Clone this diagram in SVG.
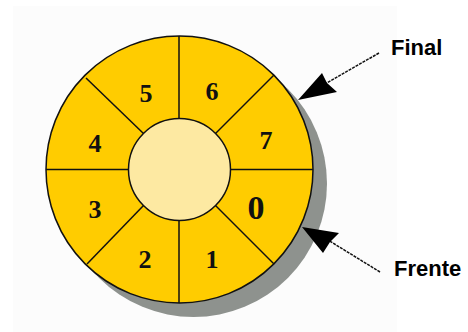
<svg xmlns="http://www.w3.org/2000/svg" width="468" height="332" viewBox="0 0 468 332">
<defs>
<style>
.seg{fill:#ffcc00;stroke:#111;stroke-width:1.5}
.div{stroke:#111;stroke-width:1.5}
.num{font-family:"Liberation Serif","Times New Roman",serif;font-weight:bold;font-size:26px;fill:#111;text-anchor:middle}
.lbl{font-family:"Liberation Sans",Arial,sans-serif;font-weight:bold;font-size:22px;fill:#000}
.lead{stroke:#111;stroke-width:1.5;stroke-dasharray:3 1;fill:none}
.head{fill:#000}
</style>
</defs>
<rect x="0" y="0" width="468" height="332" fill="#ffffff"/>
<rect x="13" y="6" width="384" height="326" fill="#fcfcfc"/>
<g id="ring">
<circle cx="193.5" cy="183.5" r="133.5" fill="#8e928e"/>
<circle class="seg" cx="179.5" cy="169.5" r="133.5"/>
<line class="div" x1="179" y1="36" x2="179" y2="119"/>
<line class="div" x1="179" y1="220" x2="179" y2="303"/>
<line class="div" x1="46" y1="169.5" x2="129" y2="169.5"/>
<line class="div" x1="230" y1="169.5" x2="313" y2="169.5"/>
<line class="div" x1="215" y1="134" x2="274" y2="75"/>
<line class="div" x1="144" y1="134" x2="86" y2="78"/>
<line class="div" x1="144" y1="205" x2="87" y2="264"/>
<line class="div" x1="215" y1="205" x2="274" y2="264"/>
<circle cx="179.5" cy="169.5" r="51" fill="#fde9a2" stroke="#111" stroke-width="1.5"/>
</g>
<g id="slot5"><text class="num" x="146" y="102">5</text></g>
<g id="slot6"><text class="num" x="212" y="100">6</text></g>
<g id="slot7"><text class="num" x="266" y="149">7</text></g>
<g id="slot4"><text class="num" x="95" y="152">4</text></g>
<g id="slot3"><text class="num" x="95" y="218">3</text></g>
<g id="slot0"><text class="num" x="256" y="219" style="font-size:34px">0</text></g>
<g id="slot2"><text class="num" x="145" y="268">2</text></g>
<g id="slot1"><text class="num" x="212" y="268">1</text></g>
<g id="label-final"><text class="lbl" x="391" y="55">Final</text></g>
<g id="label-frente"><text class="lbl" x="394" y="276">Frente</text></g>
<g id="connectors">
<line class="lead" x1="379" y1="53" x2="325" y2="84"/>
<polygon class="head" points="298,100 322,73 327,83 337,92"/>
<line class="lead" x1="380" y1="272" x2="328" y2="240"/>
<polygon class="head" points="302,227 339,233 330,242 323,253"/>
</g>
</svg>
